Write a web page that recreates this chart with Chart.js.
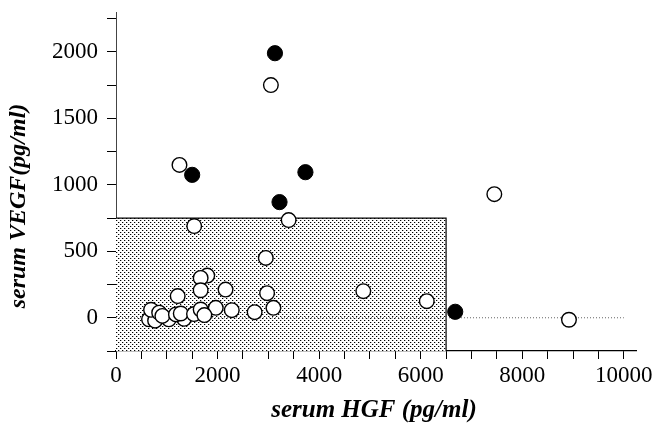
<!DOCTYPE html>
<html><head><meta charset="utf-8">
<script src="https://cdn.jsdelivr.net/npm/chart.js@4/dist/chart.umd.min.js"></script>
<style>html,body{margin:0;padding:0;background:#fff}canvas{display:block}</style>
</head><body>
<canvas id="c" width="656" height="424"></canvas>
<script>
// ---- data ----
const openPoints = [
  [3050,1750],[1250,1150],[1540,690],[3400,735],[2950,450],[7450,930],[4870,200],[6120,125],[8920,-15],
  [2975,185],[3100,75],[2730,42],[2280,57],[2157,212],[1965,75],[1797,317],[1667,300],[1667,207],[1215,163],
  [650,-12],[770,-22],[1040,-12],[1340,-8],[690,60],[850,38],[913,14],[1180,25],[1275,32],[1536,28],[1667,62],[1740,20]
];
const filledPoints = [[3130,1990],[1500,1075],[3730,1095],[3220,870],[6680,45]];
const boxHGF = 6500;        // upper limit of shaded region (x)
const boxVEGF = 750;        // upper limit of shaded region (y)
const yFloor = -250;
const zeroLineX = [0, 10000];
const xTicks = [0,500,1000,1500,2000,2500,3000,3500,4000,4500,5000,5500,6000,6500,7000,7500,8000,8500,9000,9500,10000];
const xLabels = [0,2000,4000,6000,8000,10000];
const yTicks = [-250,0,250,500,750,1000,1250,1500,1750,2000,2250];
const yLabels = [0,500,1000,1500,2000];
const xTitle = 'serum HGF (pg/ml)';
const yTitle = 'serum VEGF(pg/ml)';

// dotted fill pattern
const pc = document.createElement('canvas'); pc.width = 4; pc.height = 4;
const g = pc.getContext('2d');
g.fillStyle = '#fff'; g.fillRect(0,0,4,4);
g.fillStyle = '#bbb'; g.fillRect(1,0,1,1); g.fillRect(3,2,1,1);
g.fillStyle = '#000'; g.fillRect(0,0,1,1); g.fillRect(2,2,1,1);
const ctx0 = document.getElementById('c').getContext('2d');
const dotPattern = ctx0.createPattern(pc, 'repeat');

const serif = '"Liberation Serif","Times New Roman",serif';

const titlePlugin = {
  id: 'axisTitles',
  afterDraw(chart) {
    const ctx = chart.ctx;
    ctx.save();
    ctx.fillStyle = '#000';
    ctx.textAlign = 'center';
    ctx.textBaseline = 'middle';
    const xs = chart.scales.x;
    ctx.font = 'italic bold 25px ' + serif;
    ctx.fillText(xTitle, (xs.left + xs.right) / 2 - 2, 411);
    ctx.font = 'italic bold 24px ' + serif;
    ctx.translate(19, 206);
    ctx.rotate(-Math.PI / 2);
    ctx.fillText(yTitle, 0, 0);
    ctx.restore();
  }
};

new Chart(ctx0, {
  type: 'scatter',
  data: {
    datasets: [
      {
        type: 'line',
        data: [{x:0,y:boxVEGF},{x:boxHGF,y:boxVEGF},{x:boxHGF,y:yFloor}],
        borderColor: '#000', borderWidth: 1.2,
        backgroundColor: dotPattern,
        fill: {value: yFloor},
        pointRadius: 0, tension: 0, order: 4
      },
      {
        type: 'line',
        data: zeroLineX.map(v => ({x:v, y:0})),
        borderColor: '#666', borderWidth: 1, borderDash: [1,2],
        fill: false, pointRadius: 0, order: 3
      },
      {
        data: openPoints.map(p => ({x:p[0], y:p[1]})),
        pointRadius: 7.3, pointBorderWidth: 1.4,
        pointBackgroundColor: '#fff', pointBorderColor: '#000', order: 2
      },
      {
        data: filledPoints.map(p => ({x:p[0], y:p[1]})),
        pointRadius: 7.6, pointBorderWidth: 1,
        pointBackgroundColor: '#000', pointBorderColor: '#000', order: 1
      }
    ]
  },
  options: {
    responsive: false, animation: false,
    layout: {padding: {left: 0, right: 20, top: 12, bottom: 0}},
    plugins: {legend: {display: false}, tooltip: {enabled: false}},
    scales: {
      x: {
        type: 'linear', min: 0, max: 10240,
        afterBuildTicks: s => { s.ticks = xTicks.map(v => ({value: v})); },
        afterFit: s => { s.height = 73; s.paddingLeft = 0; s.paddingRight = 0; },
        grid: {drawOnChartArea: false, drawTicks: true, tickLength: 8, color: '#000', lineWidth: 1},
        border: {display: true, color: '#000', width: 1.2},
        ticks: {autoSkip: false, maxRotation: 0, padding: 3, color: '#000',
                font: {family: serif, size: 23},
                callback: v => xLabels.includes(v) ? String(v) : ''}
      },
      y: {
        type: 'linear', min: yFloor, max: 2300,
        afterBuildTicks: s => { s.ticks = yTicks.map(v => ({value: v})); },
        afterFit: s => { s.width = 116; s.paddingTop = 0; s.paddingBottom = 0; },
        grid: {drawOnChartArea: false, drawTicks: true, tickLength: 9, color: '#000', lineWidth: 1},
        border: {display: true, color: '#444', width: 1},
        ticks: {autoSkip: false, padding: 9, color: '#000',
                font: {family: serif, size: 23},
                callback: v => yLabels.includes(v) ? String(v) : ''}
      }
    }
  },
  plugins: [titlePlugin]
});
</script>
</body></html>
